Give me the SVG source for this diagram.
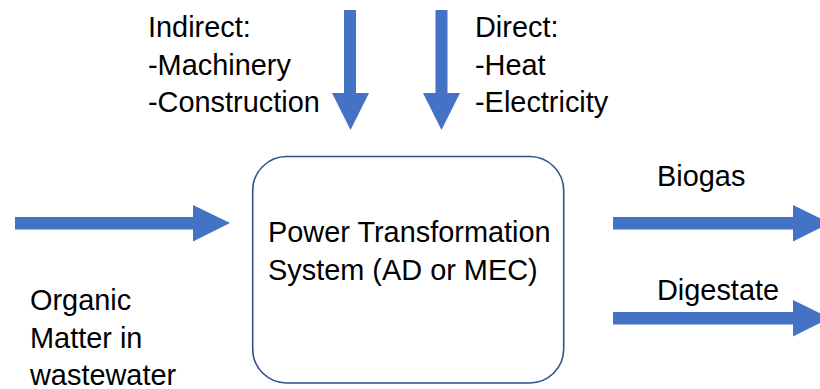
<svg xmlns="http://www.w3.org/2000/svg" width="820" height="389" viewBox="0 0 820 389">
<style>
.t{font-family:"Liberation Sans",Arial,sans-serif;font-size:28.9px;fill:#000}
.arr{fill:#4472C4}
.box{fill:#fff;stroke:#2F528F;stroke-width:1.6}
</style>
<rect width="820" height="389" fill="#fff"/>
<g id="connectors">
<polygon class="arr" points="344,10 356,10 356,93 369,93 350.5,130 332,93 344,93"/>
<polygon class="arr" points="435.5,10 447.5,10 447.5,93 460,93 441.5,130 423,93 435.5,93"/>
<polygon class="arr" points="15,217 193,217 193,205 230,223 193,241.5 193,229.5 15,229.5"/>
<polygon class="arr" points="613,217 793,217 793,205 830,223 793,241.5 793,229.5 613,229.5"/>
<polygon class="arr" points="613,312 793,312 793,300 830,318 793,336.5 793,324.5 613,324.5"/>
</g>
<g id="system">
<rect class="box" x="252.7" y="156.5" width="311" height="226.5" rx="34" ry="34"/>
<text class="t" x="268" y="242">Power Transformation</text>
<text class="t" x="268" y="280">System (AD or MEC)</text>
</g>
<g id="indirect">
<text class="t" x="148" y="37">Indirect:</text>
<text class="t" x="148" y="75">-Machinery</text>
<text class="t" x="148" y="112">-Construction</text>
</g>
<g id="direct">
<text class="t" x="475" y="37">Direct:</text>
<text class="t" x="475" y="75">-Heat</text>
<text class="t" x="475" y="112">-Electricity</text>
</g>
<g id="organic">
<text class="t" x="30" y="310">Organic</text>
<text class="t" x="30" y="348">Matter in</text>
<text class="t" x="30" y="385">wastewater</text>
</g>
<g id="biogas">
<text class="t" x="657" y="186">Biogas</text>
</g>
<g id="digestate">
<text class="t" x="657" y="300">Digestate</text>
</g>
</svg>
